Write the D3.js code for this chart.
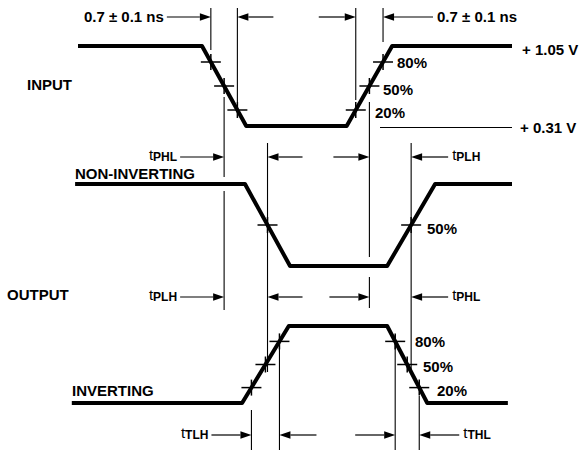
<!DOCTYPE html>
<html><head><meta charset="utf-8">
<script src="https://cdn.jsdelivr.net/npm/d3@7"></script>
<style>
body{margin:0;background:#fff}
svg{display:block}
text{font-family:"Liberation Sans",Arial,Helvetica,sans-serif;font-weight:bold;fill:#000}
</style>
</head><body>
<svg id="chart" width="579" height="450"></svg>
<script>
// ---------- data (time in ns, level as fraction of swing) ----------
const timeDomain = [0, 10.5];
const inputWave  = [[0,1],[3.0,1],[4.07,0],[6.5,0],[7.6,1],[10.5,1]];
const nonInvWave = [[-0.07,1],[4.04,1],[5.13,0],[7.48,0],[8.64,1],[10.5,1]];
const invWave    = [[-0.15,0],[3.97,0],[5.1,1],[7.48,1],[8.45,0],[10.4,0]];
const inputLevelLabels = ["+ 1.05 V", "+ 0.31 V"];
const thresholdLevels = [0.8, 0.5, 0.2];
const thresholdLabels = ["80%", "50%", "20%"];
const transitionLabel = "0.7 \u00b1 0.1 ns";
const sectionLabels = ["INPUT", "NON-INVERTING", "OUTPUT", "INVERTING"];
const delaySubscripts = ["PHL", "PLH", "PHL", "PLH", "TLH", "THL"];

// ---------- layout ----------
const svg = d3.select("#chart");
const x = d3.scaleLinear().domain(timeDomain).range([78, 512]);
const yScale = {
  in: d3.scaleLinear().domain([0,1]).range([126, 46]),
  ni: d3.scaleLinear().domain([0,1]).range([266, 184]),
  iv: d3.scaleLinear().domain([0,1]).range([403, 326])
};
const waves = {in: inputWave, ni: nonInvWave, iv: invWave};
const edgeSeg = {lead: 1, trail: 3};   // first and second transition of each pulse

function crossT(w, edge, lvl) {
  const pts = waves[w], i = edgeSeg[edge];
  const [t0, v0] = pts[i], [t1, v1] = pts[i+1];
  return t0 + (lvl - v0) / (v1 - v0) * (t1 - t0);
}
const cx = (w, e, l) => x(crossT(w, e, l));

// waveforms
Object.keys(waves).forEach(k => {
  const line = d3.line().x(d => x(d[0])).y(d => yScale[k](d[1]));
  svg.append("path")
    .attr("d", line(waves[k]))
    .attr("fill", "none").attr("stroke", "#000")
    .attr("stroke-width", 4).attr("stroke-linejoin", "round");
});

// threshold crosses
const crossSpec = [
  {w:"in", levels:[0.8,0.5,0.2]},
  {w:"ni", levels:[0.5]},
  {w:"iv", levels:[0.8,0.5,0.2]}
];
crossSpec.forEach(s => {
  ["lead","trail"].forEach(e => {
    s.levels.forEach(l => {
      const px = cx(s.w, e, l), py = yScale[s.w](l);
      svg.append("line").attr("x1", px-10).attr("x2", px+10).attr("y1", py).attr("y2", py)
        .attr("stroke", "#000").attr("stroke-width", 1.5);
      svg.append("line").attr("x1", px).attr("x2", px).attr("y1", py-8).attr("y2", py+8)
        .attr("stroke", "#000").attr("stroke-width", 1.5);
    });
  });
});

// reference vertical lines
const refLines = [
  {w:"in", e:"lead",  l:0.8, y0:8,   y1:50},
  {w:"in", e:"lead",  l:0.2, y0:8,   y1:102},
  {w:"in", e:"lead",  l:0.5, y0:97,  y1:310, gaps:[[177,191]]},
  {w:"in", e:"trail", l:0.2, y0:8,   y1:100},
  {w:"in", e:"trail", l:0.8, y0:8,   y1:42},
  {w:"in", e:"trail", l:0.5, y0:102, y1:308, gaps:[[257,277]]},
  {w:"ni", e:"lead",  l:0.5, y0:143, y1:372},
  {w:"ni", e:"trail", l:0.5, y0:143, y1:372},
  {w:"iv", e:"lead",  l:0.2, y0:410, y1:450},
  {w:"iv", e:"lead",  l:0.8, y0:343, y1:450},
  {w:"iv", e:"trail", l:0.8, y0:335, y1:450},
  {w:"iv", e:"trail", l:0.2, y0:396, y1:450}
];
refLines.forEach(r => {
  const px = cx(r.w, r.e, r.l);
  let segs = [[r.y0, r.y1]];
  (r.gaps || []).forEach(g => {
    segs = segs.flatMap(s => (g[0] > s[0] && g[1] < s[1]) ? [[s[0], g[0]], [g[1], s[1]]] : [s]);
  });
  segs.forEach(s => svg.append("line").attr("x1", px).attr("x2", px)
    .attr("y1", s[0]).attr("y2", s[1]).attr("stroke", "#000").attr("stroke-width", 1.1));
});

// arrows
function arrow(tipX, y, fromLeft, len) {
  const tail = fromLeft ? tipX - len : tipX + len;
  const hx = fromLeft ? tipX - 11 : tipX + 11;
  svg.append("line").attr("x1", tail).attr("x2", hx).attr("y1", y).attr("y2", y)
    .attr("stroke", "#000").attr("stroke-width", 1.2);
  svg.append("path").attr("d", `M${tipX},${y} L${hx},${y-3.8} L${hx},${y+3.8} Z`).attr("fill", "#000");
  return tail;
}
function subLabel(xp, y, sub, anchor) {
  const t = svg.append("text").attr("x", xp).attr("y", y + 3).attr("font-size", 15)
    .attr("text-anchor", anchor);
  t.append("tspan").text("t").attr("font-weight", "normal");
  t.append("tspan").text(sub).attr("font-size", 12).attr("dy", 1);
  return t;
}
const arrowRows = [
  {y:17,  items:[{w:"in",e:"lead",l:0.8,left:true,len:44,label:"ns"},
                 {w:"in",e:"lead",l:0.2,left:false,len:36},
                 {w:"in",e:"trail",l:0.2,left:true,len:37},
                 {w:"in",e:"trail",l:0.8,left:false,len:50,label:"ns"}]},
  {y:157, items:[{w:"in",e:"lead",l:0.5,left:true,len:44,label:0},
                 {w:"ni",e:"lead",l:0.5,left:false,len:35},
                 {w:"in",e:"trail",l:0.5,left:true,len:36},
                 {w:"ni",e:"trail",l:0.5,left:false,len:37,label:1}]},
  {y:297, items:[{w:"in",e:"lead",l:0.5,left:true,len:44,label:3},
                 {w:"ni",e:"lead",l:0.5,left:false,len:35},
                 {w:"in",e:"trail",l:0.5,left:true,len:40},
                 {w:"ni",e:"trail",l:0.5,left:false,len:37,label:2}]},
  {y:435, items:[{w:"iv",e:"lead",l:0.2,left:true,len:40,label:4},
                 {w:"iv",e:"lead",l:0.8,left:false,len:37},
                 {w:"iv",e:"trail",l:0.8,left:true,len:40},
                 {w:"iv",e:"trail",l:0.2,left:false,len:40,label:5}]}
];
arrowRows.forEach(row => row.items.forEach(it => {
  const tail = arrow(cx(it.w, it.e, it.l), row.y, it.left, it.len);
  if (it.label === undefined) return;
  const tx = it.left ? tail - 3 : tail + 4;
  const anchor = it.left ? "end" : "start";
  if (it.label === "ns") {
    svg.append("text").attr("x", tx).attr("y", row.y + 5).attr("font-size", 15)
      .attr("text-anchor", anchor).text(transitionLabel);
  } else {
    subLabel(tx, row.y, delaySubscripts[it.label], anchor);
  }
}));

// section labels
const secPos = [[27, 90], [75, 179], [7, 300], [72, 396]];
sectionLabels.forEach((s, i) => svg.append("text").attr("x", secPos[i][0]).attr("y", secPos[i][1])
  .attr("font-size", 15).text(s));

// input level labels + low reference line
svg.append("line").attr("x1", 380).attr("x2", 512).attr("y1", yScale.in(0) + 1.5).attr("y2", yScale.in(0) + 1.5)
  .attr("stroke", "#000").attr("stroke-width", 1);
svg.append("text").attr("x", 522).attr("y", yScale.in(1) + 9).attr("font-size", 15).text(inputLevelLabels[0]);
svg.append("text").attr("x", 520).attr("y", yScale.in(0) + 7).attr("font-size", 15).text(inputLevelLabels[1]);

// percentage labels
const pctIn = [[397, 68], [383, 95], [375, 118]];
thresholdLevels.forEach((l, i) => svg.append("text").attr("x", pctIn[i][0]).attr("y", pctIn[i][1])
  .attr("font-size", 15).text(thresholdLabels[i]));
svg.append("text").attr("x", 427).attr("y", 234).attr("font-size", 15).text(thresholdLabels[1]);
const pctIv = [[415, 347], [423, 372], [437, 396]];
thresholdLevels.forEach((l, i) => svg.append("text").attr("x", pctIv[i][0]).attr("y", pctIv[i][1])
  .attr("font-size", 15).text(thresholdLabels[i]));
</script>
</body></html>
